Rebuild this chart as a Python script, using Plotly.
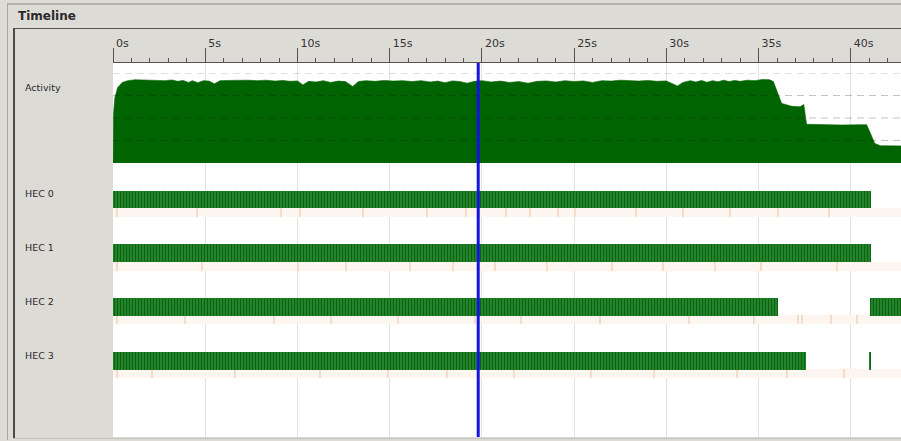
import plotly.graph_objects as go

W, H = 901, 441


def px(x):
    return x / W


def py(y):
    return 1 - y / H


FONT = "DejaVu Sans"

# ---- data -------------------------------------------------------------
tick_step = 5
x_max = 42.72
cursor_time = 19.8

# parallel activity (number of busy capabilities) over time, seconds
act_time = [0.00, 0.03, 0.10, 0.25, 0.50, 0.80, 1.2, 1.6, 2.0, 2.4, 2.8, 3.2, 3.5,
            3.8, 4.1, 4.3, 4.6, 4.9, 5.2, 5.5, 5.8, 6.3, 6.8, 7.3, 7.8, 8.3, 8.8,
            9.2, 9.6, 10.0, 10.3, 10.6, 11.0, 11.4, 11.8, 12.2, 12.6, 13.0, 13.3,
            13.7, 14.2, 14.7, 15.2, 15.7, 16.2, 16.7, 17.2, 17.6, 18.0, 18.4,
            18.8, 19.2, 19.6, 20.0, 20.5, 21.0, 21.5, 22.0, 22.5, 23.0, 23.5,
            24.0, 24.5, 25.0, 25.5, 26.0, 26.5, 27.0, 27.5, 28.0, 28.5, 29.0,
            29.5, 30.0, 30.3, 30.6, 30.9, 31.3, 31.6, 31.9, 32.2, 32.5, 32.8,
            33.1, 33.4, 33.7, 34.0, 34.4, 34.8, 35.2, 35.6, 35.8, 36.25, 36.8,
            37.25, 37.45, 37.6, 38.5, 39.5, 40.5, 40.86, 41.3, 41.6, 42.8]
act_cpu = [0.0, 2.2, 2.9, 3.35, 3.58, 3.66, 3.70, 3.69, 3.70, 3.68, 3.66, 3.69, 3.63,
           3.67, 3.58, 3.66, 3.57, 3.66, 3.64, 3.52, 3.66, 3.67, 3.69, 3.68, 3.66,
           3.68, 3.64, 3.67, 3.63, 3.65, 3.47, 3.63, 3.60, 3.66, 3.58, 3.64, 3.62,
           3.40, 3.62, 3.66, 3.63, 3.67, 3.64, 3.66, 3.62, 3.66, 3.60, 3.64, 3.57,
           3.65, 3.62, 3.55, 3.63, 3.66, 3.60, 3.64, 3.58, 3.62, 3.55, 3.63, 3.65,
           3.60, 3.66, 3.62, 3.65, 3.58, 3.66, 3.64, 3.68, 3.66, 3.64, 3.67, 3.63,
           3.65, 3.55, 3.42, 3.58, 3.66, 3.60, 3.67, 3.59, 3.66, 3.61, 3.68, 3.62,
           3.67, 3.63, 3.68, 3.66, 3.71, 3.70, 3.62, 2.65, 2.52, 2.50, 2.60, 1.72,
           1.70, 1.69, 1.70, 1.70, 0.87, 0.77, 0.76]
activity_levels = [1, 2, 3, 4]

hec_names = ["HEC 0", "HEC 1", "HEC 2", "HEC 3"]
# running intervals per capability: (start, end) in seconds
hec0_runs = [(0.0, 41.08)]
hec1_runs = [(0.0, 41.08)]
hec2_runs = [(0.0, 36.06), (41.04, 42.8)]
hec3_runs = [(0.0, 37.57), (41.02, 41.10)]
hec_runs = [hec0_runs, hec1_runs, hec2_runs, hec3_runs]

# instant events shown in the thin strip under each capability
hec0_events = [0.2, 4.5, 9.1, 10.1, 13.5, 17.0, 19.1, 21.3, 22.6, 24.1, 25.0,
               28.3, 30.9, 33.4, 36.0, 38.8]
hec1_events = [0.2, 4.8, 10.0, 12.6, 16.1, 18.4, 20.7, 23.5, 27.0, 29.8, 32.6,
               35.1, 39.2]
hec2_events = [0.2, 3.9, 8.7, 11.8, 15.4, 19.6, 22.1, 26.4, 31.2, 34.7, 37.1,
               37.3, 38.9, 40.3]
hec3_events = [0.2, 2.1, 6.6, 11.2, 14.9, 18.1, 21.7, 25.9, 29.3, 33.8, 36.5,
               39.6]
hec_events = [hec0_events, hec1_events, hec2_events, hec3_events]

# ---- geometry (pixels) ------------------------------------------------
LEFT = 113
TOP_PLOT = 63
BOTTOM_PLOT = 437
ACT_TOP = 73
ACT_BOT = 163
ROW0 = 199.5
ROW_STEP = 53.8
BAR_H = 17.7
STRIP_OFF = 12.8
STRIP_H = 9.0

y_top_units = (TOP_PLOT - ROW0) / ROW_STEP
y_bot_units = (BOTTOM_PLOT - ROW0) / ROW_STEP

fig = go.Figure()

# activity profile
fig.add_trace(go.Scatter(
    x=act_time, y=act_cpu, xaxis="x", yaxis="y2", mode="lines",
    fill="tozeroy", fillcolor="#006400",
    line=dict(color="#006400", width=0.6), hoverinfo="skip", showlegend=False))

# event strips (background + marks)
for i, events in enumerate(hec_events):
    fig.add_trace(go.Bar(
        orientation="h", y=[i + STRIP_OFF / ROW_STEP], x=[x_max + 1], base=[0],
        width=STRIP_H / ROW_STEP, marker=dict(color="#fdf5ef", line=dict(width=0)),
        xaxis="x", yaxis="y", hoverinfo="skip", showlegend=False))
    fig.add_trace(go.Bar(
        orientation="h", y=[i + STRIP_OFF / ROW_STEP] * len(events),
        x=[0.06] * len(events), base=events,
        width=STRIP_H / ROW_STEP, marker=dict(color="#f6dcc8", line=dict(width=0)),
        xaxis="x", yaxis="y", hoverinfo="skip", showlegend=False))

# capability run bars
for i, runs in enumerate(hec_runs):
    fig.add_trace(go.Bar(
        orientation="h",
        y=[i] * len(runs),
        x=[e - s for s, e in runs],
        base=[s for s, e in runs],
        width=BAR_H / ROW_STEP,
        marker=dict(color="#1f7f22", line=dict(width=0),
                    pattern=dict(shape="|", fgcolor="#0d5f10", bgcolor="#22842a",
                                 size=3, solidity=0.3, fillmode="replace")),
        xaxis="x", yaxis="y", hoverinfo="skip", showlegend=False))

shapes = []
# dashed activity reference lines
for lv in activity_levels:
    shapes.append(dict(type="line", xref="x domain", yref="y2", x0=0, x1=1,
                       y0=lv, y1=lv, layer="above",
                       line=dict(color="rgba(0,0,0,0.24)", width=1, dash="7px,5px")))

# cursor
shapes.append(dict(type="line", xref="x", yref="paper", x0=cursor_time, x1=cursor_time,
                   y0=py(BOTTOM_PLOT), y1=py(TOP_PLOT), layer="above",
                   line=dict(color="#1414e0", width=3)))

# window frame
shapes += [
    dict(type="line", xref="paper", yref="paper", x0=px(7), x1=1, y0=py(4), y1=py(4),
         line=dict(color="#8a8884", width=1), layer="above"),
    dict(type="line", xref="paper", yref="paper", x0=px(7.5), x1=px(7.5), y0=py(4), y1=py(440),
         line=dict(color="#a8a6a2", width=1), layer="above"),
    dict(type="line", xref="paper", yref="paper", x0=px(13), x1=1, y0=py(28.5), y1=py(28.5),
         line=dict(color="#55534f", width=1), layer="above"),
    dict(type="line", xref="paper", yref="paper", x0=px(14), x1=px(14), y0=py(438), y1=py(28),
         line=dict(color="#4c4a46", width=2), layer="above"),
    dict(type="line", xref="paper", yref="paper", x0=px(13), x1=1, y0=py(438.5), y1=py(438.5),
         line=dict(color="#c4c2be", width=1), layer="above"),
]

annotations = [
    dict(text="<b>Timeline</b>", xref="paper", yref="paper", x=px(16), y=py(16),
         xanchor="left", yanchor="middle", showarrow=False,
         font=dict(family=FONT, size=12, color="#2a2a2a")),
    dict(text="Activity", xref="paper", yref="paper", x=px(23), y=py(87),
         xanchor="left", yanchor="middle", showarrow=False,
         font=dict(family=FONT, size=9.5, color="#2a2a2a")),
]
for i, name in enumerate(hec_names):
    annotations.append(dict(
        text=name, xref="paper", yref="y", x=px(23), y=i - 5.5 / ROW_STEP,
        xanchor="left", yanchor="middle", showarrow=False,
        font=dict(family=FONT, size=9.5, color="#2a2a2a")))

fig.update_layout(
    width=W, height=H, margin=dict(l=0, r=0, t=0, b=0),
    paper_bgcolor="#dddbd6", plot_bgcolor="#ffffff",
    barmode="overlay", bargap=0, showlegend=False,
    xaxis=dict(
        domain=[px(LEFT), 1], range=[0, x_max], side="top", anchor="y",
        tick0=0, dtick=tick_step, ticksuffix="s", ticks="outside", ticklen=14,
        tickcolor="#55534f", tickwidth=1, ticklabelposition="outside right",
        ticklabelstandoff=11, ticklabelshift=2,
        tickfont=dict(family=FONT, size=11, color="#333333"),
        showline=True, linecolor="#55534f", linewidth=1,
        showgrid=True, gridcolor="#e2e2e2", gridwidth=1, zeroline=False,
        minor=dict(dtick=1, ticks="outside", ticklen=4, tickcolor="#55534f",
                   showgrid=False),
        fixedrange=True),
    yaxis=dict(
        domain=[py(BOTTOM_PLOT), py(TOP_PLOT)], range=[y_bot_units, y_top_units],
        visible=False, fixedrange=True),
    yaxis2=dict(
        domain=[py(ACT_BOT), py(ACT_TOP)], range=[0, 4], anchor="x",
        visible=False, fixedrange=True),
    shapes=shapes, annotations=annotations,
)

fig.write_html("out.html")
